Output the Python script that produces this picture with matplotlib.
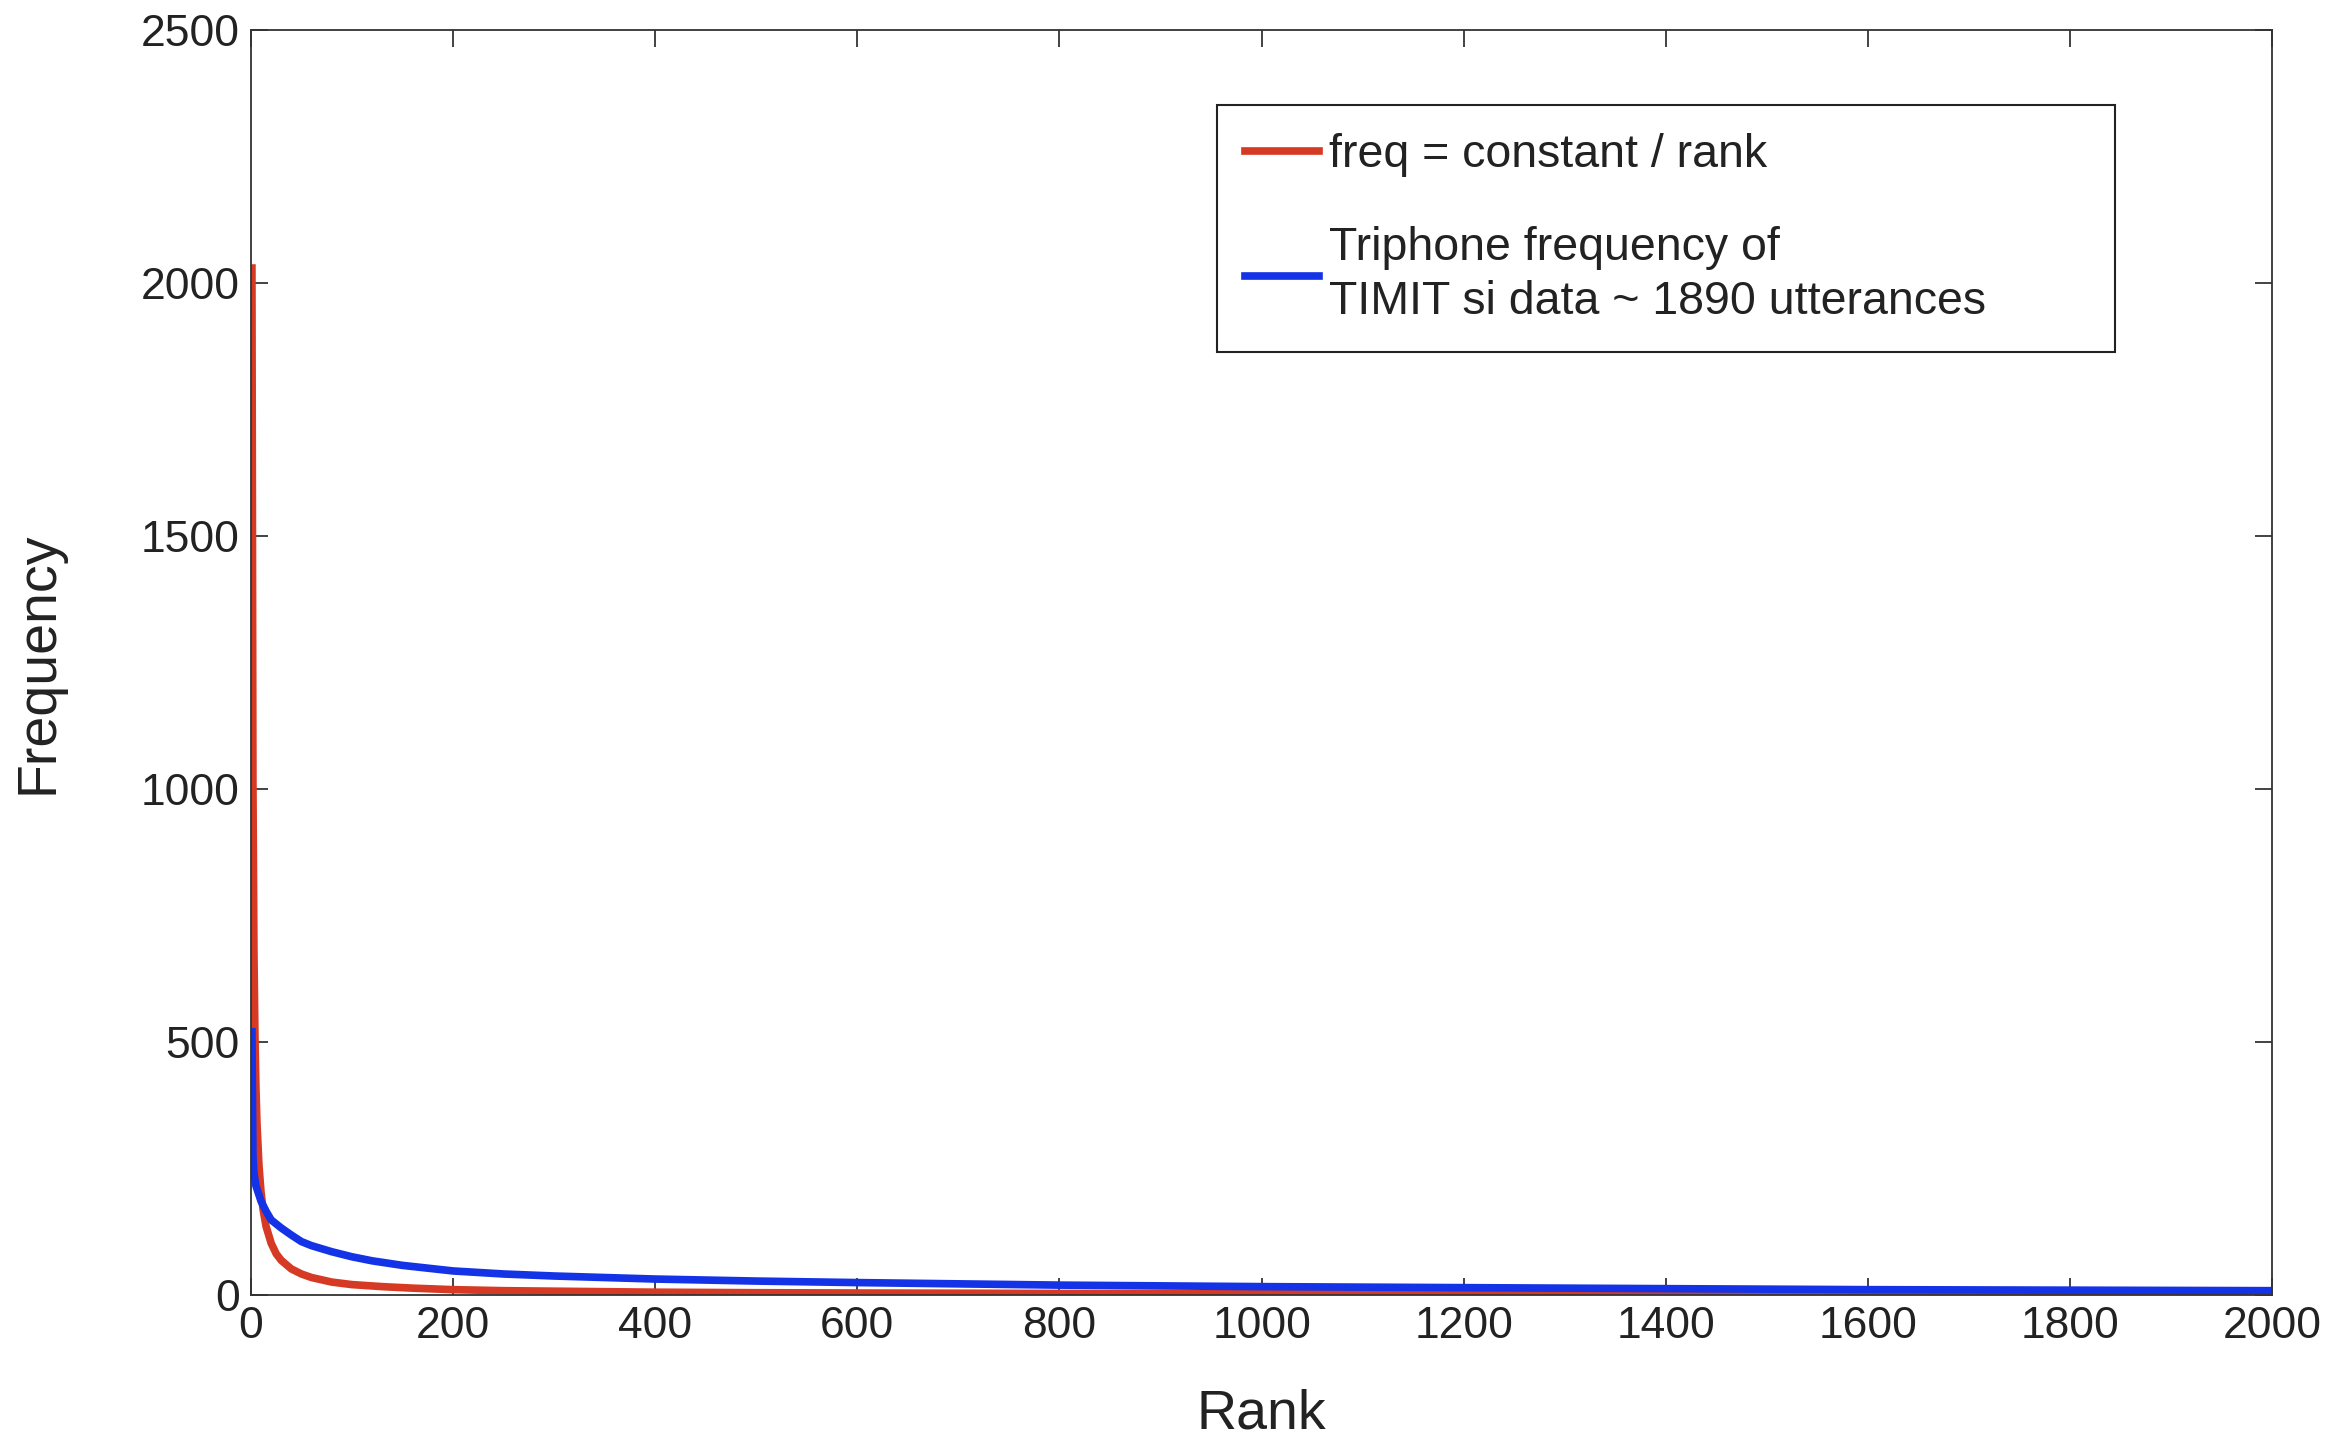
import numpy as np
import matplotlib
matplotlib.use("Agg")
import matplotlib.pyplot as plt

plt.rcParams['font.family'] = ['Liberation Sans', 'DejaVu Sans']

# freq = constant / rank (constant about 2030)
red_rank = [1, 2, 3, 4, 5, 6, 8, 10, 12, 15, 20, 25, 30, 40, 50, 60, 80, 100,
            130, 160, 200, 250, 300, 400, 500, 600, 800, 1000, 1200, 1400,
            1600, 1800, 2000]
red_freq = [2030, 1015, 677, 508, 406, 338, 254, 203, 169, 135, 102, 81, 68,
            51, 41, 34, 25, 20, 16, 13, 10, 8, 7, 5, 4, 3.4, 2.5, 2.0, 1.7,
            1.5, 1.3, 1.1, 1.0]

# triphone frequency, TIMIT si data
blue_rank = [1, 2, 3, 5, 10, 15, 20, 30, 40, 50, 60, 80, 100, 120, 150, 200,
             250, 300, 400, 500, 600, 800, 1000, 1200, 1400, 1600, 1800, 2000]
blue_freq = [520, 275, 240, 215, 185, 165, 148, 132, 118, 105, 97, 85, 75, 67,
             58, 47, 41, 37, 31, 27, 24, 19, 16, 14, 12, 10, 9, 8]

x_ticks = np.arange(0, 2001, 200)
y_ticks = np.arange(0, 2501, 500)

fig = plt.figure(figsize=(23.45, 14.45), dpi=100)
ax = fig.add_axes([0.107, 0.104, 0.862, 0.875])

ax.plot(red_rank, red_freq, color="#d63a24", lw=5.5, label="freq = constant / rank")
ax.plot(blue_rank, blue_freq, color="#1432e6", lw=5.5,
        label="Triphone frequency of\nTIMIT si data ~ 1890 utterances")

ax.set_xlim(0, 2000)
ax.set_ylim(0, 2500)
ax.set_xticks(x_ticks)
ax.set_yticks(y_ticks)
ax.tick_params(direction="in", length=12, width=1.2, labelsize=32,
               top=True, right=True, pad=8, colors="#222222")
for s in ax.spines.values():
    s.set_linewidth(1.3)
    s.set_color("#333333")

ax.set_xlabel("Rank", fontsize=40, labelpad=30, color="#222222")
ax.set_ylabel("Frequency", fontsize=40, labelpad=55, color="#222222")

leg = ax.legend(loc="upper left", bbox_to_anchor=(0.519, 0.755, 0.383, 0.172),
                bbox_transform=fig.transFigure, mode="expand", fontsize=33.5,
                fancybox=False, edgecolor="#222222", framealpha=1,
                handlelength=1.6, handletextpad=0.2, borderpad=0.6,
                labelspacing=1.05, borderaxespad=0)
leg.get_frame().set_linewidth(1.5)
for t in leg.get_texts():
    t.set_color("#222222")
    t.set_linespacing(1.3)

fig.savefig("out.png", dpi=100)
